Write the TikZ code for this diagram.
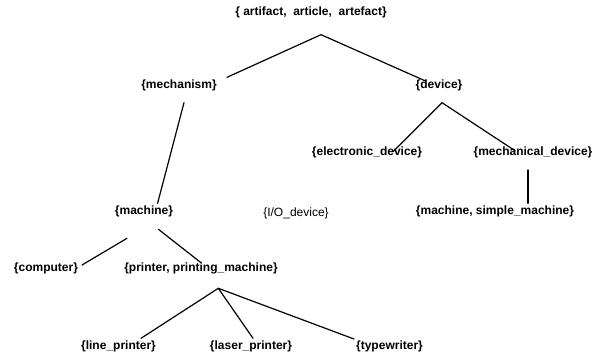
\documentclass[tikz,border=0pt]{standalone}
\usepackage{fontspec}
\setmainfont{Liberation Sans}
\begin{document}
\begin{tikzpicture}[x=1pt,y=-1pt,
  lbl/.style={inner sep=0pt, font=\fontsize{12}{14}\selectfont\bfseries},
  plain/.style={inner sep=0pt, font=\fontsize{12}{14}\selectfont},
  edge/.style={line width=1.2pt, line cap=round}]
\useasboundingbox (0,0) rectangle (596,358);
\fill[white] (0,0) rectangle (596,358);
% nodes
\node[lbl] (art) at (311,12.7) {\{\ artifact,\ \ article,\ \ artefact\}};
\node[lbl] (mech) at (179,85.3) {\{mechanism\}};
\node[lbl] (dev) at (439,85.3) {\{device\}};
\node[lbl] (elec) at (367,152.5) {\{electronic\_device\}};
\node[lbl] (mdev) at (533,152.5) {\{mechanical\_device\}};
\node[lbl] (simple) at (495,211) {\{machine, simple\_machine\}};
\node[lbl] (mach) at (144,211.5) {\{machine\}};
\node[plain] (io) at (296,213) {\{I/O\_device\}};
\node[lbl] (comp) at (46,268.5) {\{computer\}};
\node[lbl] (print) at (201,268.5) {\{printer, printing\_machine\}};
\node[lbl] (linep) at (118.5,346.5) {\{line\_printer\}};
\node[lbl] (laser) at (251,346.5) {\{laser\_printer\}};
\node[lbl] (type) at (389.5,346.5) {\{typewriter\}};
% connector points
\coordinate (artB) at (321,34.7);
\coordinate (mechT) at (227,77.3);
\coordinate (devT) at (425.6,81);
\coordinate (mechB) at (184,102.7);
\coordinate (machT) at (157.6,203.3);
\coordinate (devB) at (442,102.7);
\coordinate (elecT) at (393,151.7);
\coordinate (mdevT) at (515,150.7);
\coordinate (mdevB) at (528,170);
\coordinate (simpleT) at (528,203.3);
\coordinate (machBR) at (158.4,229.3);
\coordinate (printT) at (201,262.7);
\coordinate (machBL) at (127,238.3);
\coordinate (compR) at (82,265);
\coordinate (printB) at (218.3,288.3);
\coordinate (linepT) at (141,338.3);
\coordinate (laserT) at (253,338.3);
\coordinate (typeT) at (354,339);
% connectors
\draw[edge] (mechT) -- (artB) -- (devT);
\draw[edge] (mechB) -- (machT);
\draw[edge] (elecT) -- (devB) -- (mdevT);
\draw[edge] (mdevB) -- (simpleT);
\draw[edge] (machBR) -- (printT);
\draw[edge] (machBL) -- (compR);
\draw[edge] (linepT) -- (printB) -- (typeT);
\draw[edge] (printB) -- (laserT);
\end{tikzpicture}
\end{document}
